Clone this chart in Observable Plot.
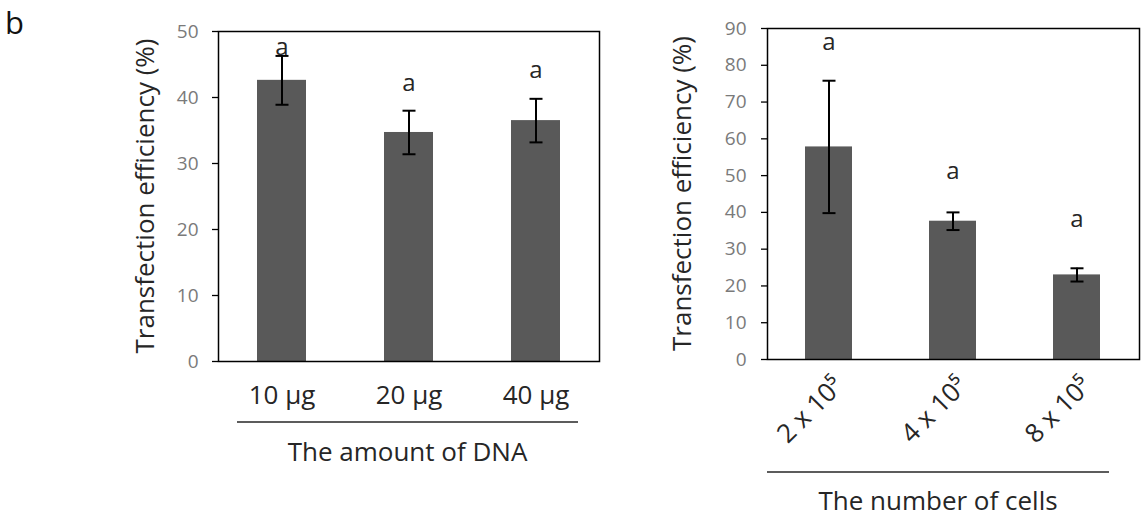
<!DOCTYPE html>
<html><head><meta charset="utf-8">
<script src="https://cdn.jsdelivr.net/npm/d3@7"></script>
<script src="https://cdn.jsdelivr.net/npm/@observablehq/plot@0.6"></script>
<style>
body{margin:0;background:#fff;}
#wrap{position:relative;width:1142px;height:517px;overflow:hidden;font-family:"Open Sans",sans-serif;}
#wrap svg{position:absolute;top:0;}
#panelLabel{position:absolute;left:5px;top:1px;font-size:31px;color:#111;line-height:normal;}
</style></head><body>
<div id="wrap"><div id="panelLabel">b</div></div>
<script>
// Panel 1: amount of DNA
const dnaCategories = ["10 μg", "20 μg", "40 μg"];
const dnaMeans = [42.6, 34.7, 36.5];
const dnaErrors = [3.7, 3.3, 3.3];
const dnaLetters = ["a", "a", "a"];
const dnaLetterY = [47.6, 42.1, 44.1];
const dnaTicks = [0, 10, 20, 30, 40, 50];

// Panel 2: number of cells
const cellCategories = ["2 x 10⁵", "4 x 10⁵", "8 x 10⁵"];
const cellMeans = [57.8, 37.6, 23.0];
const cellErrors = [18.0, 2.4, 1.8];
const cellLetters = ["a", "a", "a"];
const cellLetterY = [86.3, 51.2, 38.1];
const cellTicks = [0, 10, 20, 30, 40, 50, 60, 70, 80, 90];

const yTitle = "Transfection efficiency (%)";

// horizontal-line symbol used for error-bar caps (half-width = r)
const capSymbol = {
  draw(ctx, size) {
    const r = Math.sqrt(size / Math.PI);
    ctx.moveTo(-r, 0);
    ctx.lineTo(r, 0);
  }
};

function panel(o) {
  const data = o.cats.map((c, i) => ({c, m: o.means[i], e: o.errs[i], l: o.letters[i], ly: o.letterY[i]}));
  const chart = Plot.plot({
    width: o.width, height: 517,
    marginLeft: o.ml, marginRight: o.mr, marginTop: o.mt, marginBottom: o.mb,
    style: {fontFamily: "Open Sans", background: "transparent", overflow: "visible"},
    x: {domain: o.cats, paddingInner: o.pad, paddingOuter: o.pad / 2, label: null, axis: null},
    y: {domain: [0, o.ticks[o.ticks.length - 1]], label: null, axis: null},
    marks: [
      Plot.barY(data, {x: "c", y: "m", fill: "#595959"}),
      Plot.ruleX(data, {x: "c", y1: d => d.m - d.e, y2: d => d.m + d.e, stroke: "#000", strokeWidth: 2}),
      Plot.dot(data, {x: "c", y: d => d.m + d.e, symbol: capSymbol, r: 6.5, fill: "none", stroke: "#000", strokeWidth: 2}),
      Plot.dot(data, {x: "c", y: d => d.m - d.e, symbol: capSymbol, r: 6.5, fill: "none", stroke: "#000", strokeWidth: 2}),
      Plot.text(data, {x: "c", y: "ly", text: "l", fontSize: 24, fill: "#262626"}),
      Plot.frame({stroke: "#000", strokeWidth: 1.5}),
      Plot.axisY({ticks: o.ticks, tickSize: 6, tickFormat: () => "", stroke: "#000", strokeWidth: 1.3}),
      Plot.axisY({ticks: o.ticks, tickSize: 0, tickPadding: o.yPad, fontSize: 19, color: "#7a7a7a"}),
      Plot.axisX({tickSize: 0, tickPadding: o.xPad, fontSize: o.xFont, color: "#262626", tickRotate: o.rotate, dx: o.xdx || 0})
    ]
  });
  chart.style.left = o.left + "px";
  const svg = d3.select(chart);
  const xr = [o.ml, o.width - o.mr];
  const ymid = (o.mt + (517 - o.mb)) / 2;
  svg.append("text")
    .attr("transform", `translate(${o.titleX},${ymid}) rotate(-90)`)
    .attr("text-anchor", "middle").attr("dy", "0.35em")
    .attr("font-size", 26).attr("fill", "#262626").text(yTitle);
  svg.append("line")
    .attr("x1", xr[0] + o.lineInset[0]).attr("x2", xr[1] - o.lineInset[1])
    .attr("y1", o.lineY).attr("y2", o.lineY)
    .attr("stroke", "#262626").attr("stroke-width", 1.5);
  svg.append("text")
    .attr("x", xr[0] + o.lineInset[0] + (xr[1] - o.lineInset[1] - xr[0] - o.lineInset[0]) / 2)
    .attr("y", o.xTitleY).attr("text-anchor", "middle")
    .attr("font-size", 26).attr("fill", "#262626").text(o.xTitle);
  document.getElementById("wrap").appendChild(chart);
}

panel({
  cats: dnaCategories, means: dnaMeans, errs: dnaErrors, letters: dnaLetters, letterY: dnaLetterY, ticks: dnaTicks,
  left: 0, width: 610, ml: 218, mr: 11, mt: 31, mb: 156, pad: 0.614,
  yPad: 20, xPad: 24, xFont: 26, rotate: 0, titleX: 145,
  lineY: 422, lineInset: [19, 21], xTitle: "The amount of DNA", xTitleY: 461
});

panel({
  cats: cellCategories, means: cellMeans, errs: cellErrors, letters: cellLetters, letterY: cellLetterY, ticks: cellTicks,
  left: 600, width: 542, ml: 167, mr: 3, mt: 28, mb: 158, pad: 0.62,
  yPad: 21, xPad: 22, xFont: 26, rotate: -45, xdx: 10, titleX: 82,
  lineY: 472, lineInset: [0, 30], xTitle: "The number of cells", xTitleY: 510
});
</script>
</body></html>
